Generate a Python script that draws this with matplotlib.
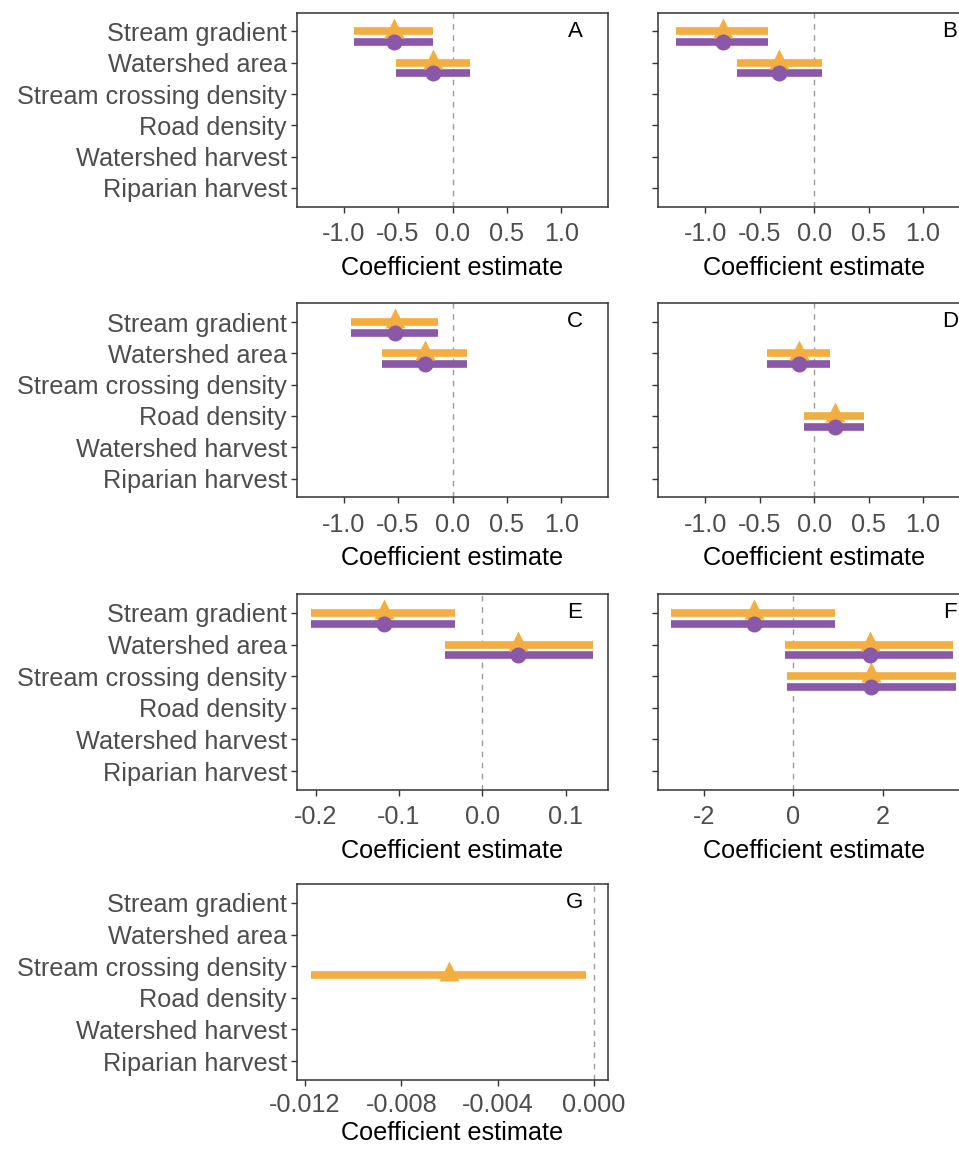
import matplotlib
matplotlib.use('Agg')
import matplotlib.pyplot as plt

plt.rcParams['font.family'] = ['Liberation Sans', 'DejaVu Sans']
plt.rcParams['axes.unicode_minus'] = False

# %% Donnees
predictors = ['Stream gradient', 'Watershed area', 'Stream crossing density',
              'Road density', 'Watershed harvest', 'Riparian harvest']

# A
a_vars = ['Stream gradient', 'Watershed area']
a_est = [-0.54, -0.18]
a_lo = [-0.90, -0.515]
a_hi = [-0.18, 0.16]
# B
b_vars = ['Stream gradient', 'Watershed area']
b_est = [-0.84, -0.32]
b_lo = [-1.27, -0.71]
b_hi = [-0.42, 0.07]
# C
c_vars = ['Stream gradient', 'Watershed area']
c_est = [-0.53, -0.255]
c_lo = [-0.93, -0.645]
c_hi = [-0.13, 0.13]
# D
d_vars = ['Watershed area', 'Road density']
d_est = [-0.14, 0.19]
d_lo = [-0.43, -0.09]
d_hi = [0.147, 0.46]
# E
e_vars = ['Stream gradient', 'Watershed area']
e_est = [-0.118, 0.0432]
e_lo = [-0.2056, -0.0448]
e_hi = [-0.0328, 0.1332]
# F
f_vars = ['Stream gradient', 'Watershed area', 'Stream crossing density']
f_est = [-0.89, 1.71, 1.74]
f_lo = [-2.74, -0.195, -0.13]
f_hi = [0.93, 3.57, 3.63]
# G (seulement le modele orange)
g_vars = ['Stream crossing density']
g_est = [-0.0060]
g_lo = [-0.01175]
g_hi = [-0.00033]

orange = '#F2AE40'
purple = '#8A58A8'
grey_txt = '#4D4D4D'

# %% Mise en page des panneaux
W, H = 959, 1150
col_x = [296.7, 658.3]
ax_w = 311.6
rows_y = [(12.7, 206.7), (303.3, 497.3), (594, 790), (884, 1080)]

panels = [
    ('A', 0, 0, a_vars, a_est, a_lo, a_hi, True, (-1.43, 1.43),
     [-1, -0.5, 0, 0.5, 1], ['-1.0', '-0.5', '0.0', '0.5', '1.0'], 0.0),
    ('B', 0, 1, b_vars, b_est, b_lo, b_hi, True, (-1.43, 1.43),
     [-1, -0.5, 0, 0.5, 1], ['-1.0', '-0.5', '0.0', '0.5', '1.0'], 0.0),
    ('C', 1, 0, c_vars, c_est, c_lo, c_hi, True, (-1.43, 1.43),
     [-1, -0.5, 0, 0.5, 1], ['-1.0', '-0.5', '0.0', '0.5', '1.0'], 0.0),
    ('D', 1, 1, d_vars, d_est, d_lo, d_hi, True, (-1.43, 1.43),
     [-1, -0.5, 0, 0.5, 1], ['-1.0', '-0.5', '0.0', '0.5', '1.0'], 0.0),
    ('E', 2, 0, e_vars, e_est, e_lo, e_hi, True, (-0.2227, 0.1512),
     [-0.2, -0.1, 0.0, 0.1], ['-0.2', '-0.1', '0.0', '0.1'], 0.0),
    ('F', 2, 1, f_vars, f_est, f_lo, f_hi, True, (-3.02, 3.95),
     [-2, 0, 2], ['-2', '0', '2'], 0.0),
    ('G', 3, 0, g_vars, g_est, g_lo, g_hi, False, (-0.01234, 0.000594),
     [-0.012, -0.008, -0.004, 0.0], ['-0.012', '-0.008', '-0.004', '0.000'], 0.27),
]

fig = plt.figure(figsize=(W / 100, H / 100), dpi=100)

for lab, r, c, vars_, est, lo, hi, has_purple, xlim, xt, xtl, shift in panels:
    top, bot = rows_y[r]
    ax = fig.add_axes([col_x[c] / W, 1 - bot / H, ax_w / W, (bot - top) / H])
    ax.axvline(0, color='#9A9A9A', lw=1.0, ls=(0, (4, 4)), zorder=1)
    ypos = [predictors.index(v) + shift for v in vars_]
    ax.hlines(ypos, lo, hi, color=orange, lw=5.5, zorder=2)
    ax.plot(est, [y - 0.12 for y in ypos], ls='none', marker='^', ms=14,
            color=orange, mec='none', zorder=4)
    if has_purple:
        yp = [y + 0.34 for y in ypos]
        ax.hlines(yp, lo, hi, color=purple, lw=5.5, zorder=3)
        ax.plot(est, yp, ls='none', marker='o', ms=11.5, color=purple,
                mec='none', zorder=5)

    ax.set_xlim(xlim)
    ax.set_ylim(5.6, -0.6)
    ax.set_yticks(range(len(predictors)))
    if c == 0:
        ax.set_yticklabels(predictors, fontsize=18.2, color=grey_txt)
    else:
        ax.set_yticklabels([])
    ax.set_xticks(xt)
    ax.set_xticklabels(xtl, fontsize=18.2, color=grey_txt)
    ax.tick_params(length=4, width=1, color='#333333')
    ax.tick_params(axis='x', pad=7 if r < 3 else 5)
    ax.tick_params(axis='y', pad=3)
    for s in ax.spines.values():
        s.set_color('#333333')
        s.set_linewidth(1.1)
    ax.set_xlabel('Coefficient estimate', fontsize=18.2, color='black',
                  labelpad=7 if r < 3 else 3)
    fx = 0.893 if c == 0 else 0.936
    ax.text(fx, 0.905, lab, transform=ax.transAxes, fontsize=16,
            ha='center', va='center', color='black')

fig.savefig('out.png', dpi=100)
